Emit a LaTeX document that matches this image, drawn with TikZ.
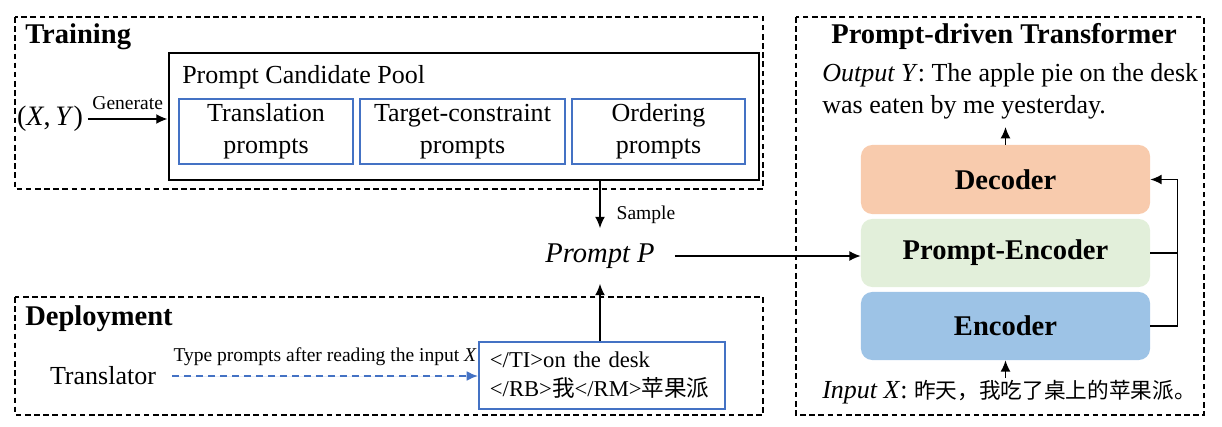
\documentclass[tikz,border=0pt]{standalone}
\usepackage{fontspec}
\setmainfont{Liberation Serif}
\newfontfamily\cjk{Noto Sans CJK SC}
\usepackage{tikz}
\usetikzlibrary{arrows.meta}

\definecolor{boxblue}{HTML}{4472C4}
\definecolor{decfill}{HTML}{F8CBAD}
\definecolor{pencfill}{HTML}{E2EFDA}
\definecolor{encfill}{HTML}{9DC3E6}

\tikzset{
	frame/.style={draw=black, line width=1pt, dash pattern=on 4pt off 2.5pt},
	headtxt/.style={font=\fontsize{20.3}{24}\selectfont\bfseries, inner sep=0pt},
	bodytxt/.style={font=\fontsize{18.5}{22}\selectfont},
	smalltxt/.style={font=\fontsize{13.9}{16}\selectfont},
	kindbox/.style={shape=rectangle, draw=boxblue, line width=1.4pt, minimum height=1.625cm, inner sep=0pt, align=center, font=\fontsize{18.5}{22.5}\selectfont},
	layer/.style={shape=rectangle, rounded corners=8pt, minimum width=7.225cm, inner sep=0pt, font=\fontsize{20.3}{24}\selectfont\bfseries},
	arr/.style={-{Latex[length=8pt,width=7pt]}, line width=1pt},
}

\begin{document}
\begin{tikzpicture}[x=0.025cm, y=-0.025cm]
	\useasboundingbox (0,0) rectangle (1222,427);

	% training part
	\draw[frame] (15,17) rectangle (763,189);
	\node[headtxt, anchor=west] (train) at (25,37) {Training};
	\node[shape=rectangle, draw=black, line width=2pt, minimum width=14.75cm, minimum height=3.175cm] (pool) at (464,116.5) {};
	\node[bodytxt, inner sep=0pt, anchor=west] (pooltxt) at (182,77) {Prompt Candidate Pool};
	\node[kindbox, minimum width=4.35cm] (trans) at (266,131.5) {Translation\\prompts};
	\node[kindbox, minimum width=5.125cm] (target) at (462.5,131.5) {Target-constraint\\prompts};
	\node[kindbox, minimum width=4.325cm] (order) at (658.5,131.5) {Ordering\\prompts};
	\node[font=\fontsize{20}{24}\selectfont] (xy) at (50,119) {(\textit{X},\,\textit{Y})};

	\draw[arr] (xy.east) -- node[smalltxt, above, yshift=3pt] {Generate} (xy.east -| pool.west);

	% prompt
	\node[font=\fontsize{20.3}{24}\selectfont\itshape, inner xsep=0.5cm, inner ysep=0.38cm] (pp) at (600,256) {Prompt P};
	\draw[arr] (pool.south -| pp.north) -- node[smalltxt, right, xshift=8pt, pos=0.72] {Sample} (pp.north);

	% deployment part
	\draw[frame] (15,297) rectangle (763,415);
	\node[headtxt, anchor=west] (deploy) at (25,319) {Deployment};
	\node[bodytxt, inner xsep=0.4cm] (tr) at (103,376) {Translator};
	\node[shape=rectangle, draw=boxblue, line width=1.4pt, minimum width=6.15cm, minimum height=1.675cm, text width=5.6cm, inner xsep=0.275cm, align=left, font=\fontsize{16.1}{20.6}\selectfont] (dep) at (602,375.5) {</TI>on the desk\\</RB>{\cjk 我}</RM>{\cjk 苹果派}};

	\draw[arr, draw=boxblue, fill=boxblue, line width=1.4pt, dash pattern=on 5pt off 3.5pt] (tr.east) -- node[smalltxt, above, text=black, yshift=3pt] {Type prompts after reading the input \textit{X}} (tr.east -| dep.west);
	\draw[arr] (dep.north -| pp.south) -- (pp.south);

	% transformer part
	\draw[frame] (796,17) rectangle (1204,415);
	\node[headtxt] (tf) at (1004,36) {Prompt-driven Transformer};
	\node[bodytxt, anchor=west, align=left, inner sep=0pt, font=\fontsize{18.5}{22.8}\selectfont] (out) at (822,91) {\textit{Output Y}: The apple pie on the desk\\was eaten by me yesterday.};
	\node[layer, fill=decfill, minimum height=1.725cm] (dec) at (1005.5,179.5) {Decoder};
	\node[layer, fill=pencfill, minimum height=1.7cm] (penc) at (1005.5,253) {Prompt-Encoder};
	\node[layer, fill=encfill, minimum height=1.7cm] (enc) at (1005.5,326) {Encoder};
	\node[bodytxt, anchor=west, inner sep=0pt] (in) at (822,392) {\textit{Input X}: {\cjk\fontsize{15.4}{18}\selectfont 昨天，我吃了桌上的苹果派。}};
	\coordinate (outtip) at (1005.5,127);
	\coordinate (intail) at (1005.5,378);

	\draw[arr] (pp.east) -- (pp.east -| penc.west);
	\draw[arr] (dec.north) -- (outtip);
	\draw[arr] (intail) -- (enc.south);
	\draw[line width=1pt] (penc.east) -- ++(27,0);
	\draw[arr] (enc.east) -- ++(27,0) |- (dec.east);

\end{tikzpicture}
\end{document}
